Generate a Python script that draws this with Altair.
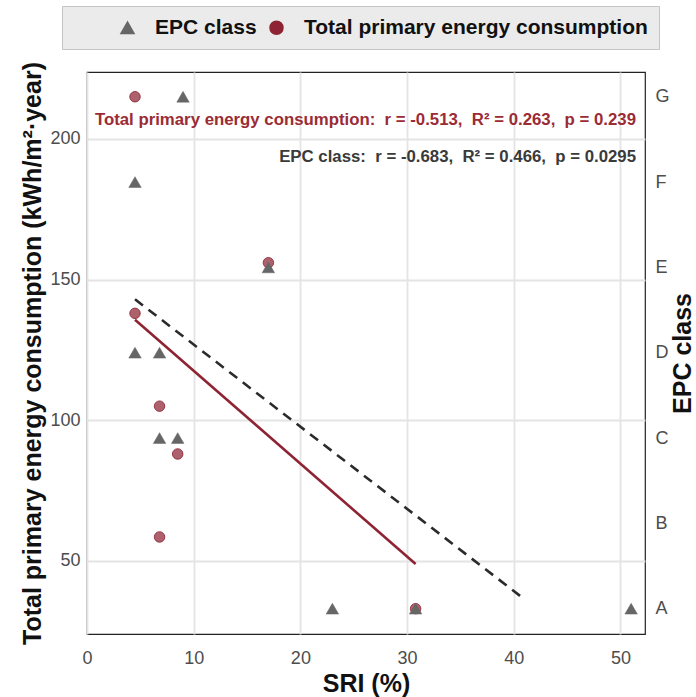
import altair as alt
import pandas as pd

# ---- data ----
sri_energy = [4.5, 4.5, 6.8, 6.8, 8.5, 17.0, 30.8]
energy = [215, 138, 105, 58.5, 88, 156, 33]

sri_epc = [9.0, 4.5, 17.0, 4.5, 6.8, 6.8, 8.5, 23.0, 30.8, 51.0]
epc_class = ["G", "F", "E", "D", "D", "C", "C", "A", "A", "A"]
epc_letters = ["A", "B", "C", "D", "E", "F", "G"]

series_names = ["EPC class", "Total primary energy consumption"]
NB = "\u00a0"
annot_energy = f"Total primary energy consumption:{NB} r = -0.513,{NB} R² = 0.263,{NB} p = 0.239"
annot_epc = f"EPC class:{NB} r = -0.683,{NB} R² = 0.466,{NB} p = 0.0295"

x_domain = [0, 52.3]
y_domain = [24, 223.8]
epc_fit_extent = [4.5, 41]

# ---- derived tables ----
df_e = pd.DataFrame({"sri": sri_energy, "val": energy, "series": series_names[1]})
df_c = pd.DataFrame({
    "sri": sri_epc,
    "k": [epc_letters.index(c) + 1 for c in epc_class],
    "series": series_names[0],
})
emin, emax = min(energy), max(energy)
step = (emax - emin) / 6.0
k_domain = [(d - emin) / step + 1 for d in y_domain]

FONT = "Liberation Sans"
RED = "#8E2433"
GREY = "#666666"

x_enc = alt.X("sri:Q", scale=alt.Scale(domain=x_domain, nice=False, zero=False),
              axis=alt.Axis(title="SRI (%)", values=[0, 10, 20, 30, 40, 50],
                            titleX=279, titleY=49, titleBaseline="middle",
                            labelPadding=15, labelFlush=False))

shape_enc = alt.Shape("series:N", scale=alt.Scale(domain=series_names, range=["triangle-up", "circle"]),
                      legend=alt.Legend(title=" ", titleOrient="left", titlePadding=44,
                                        orient="none", legendX=-25, legendY=-66,
                                        direction="horizontal", fillColor="#EBEBEB",
                                        strokeColor="#C4C4C4", padding=11,
                                        labelFontSize=21, labelFontWeight="bold",
                                        labelFont=FONT, labelColor="#111111", labelLimit=0,
                                        symbolSize=170, labelOffset=17, columnPadding=9,
                                        titleFontSize=21))
color_enc = alt.Color("series:N", scale=alt.Scale(domain=series_names, range=[GREY, RED]))
stroke_enc = alt.Stroke("series:N", scale=alt.Scale(domain=series_names, range=[GREY, RED]))

base_e = alt.Chart(df_e)
y_e = alt.Y("val:Q", scale=alt.Scale(domain=y_domain, nice=False, zero=False),
            axis=alt.Axis(title="Total primary energy consumption (kWh/m²·year)",
                          values=[50, 100, 150, 200], titleX=-55, titleY=281,
                          titleAngle=-90, titleAlign="center", titleBaseline="middle",
                          labelPadding=7))

pts_e = base_e.mark_point(filled=True, size=110, fillOpacity=0.72,
                          strokeOpacity=0.85, strokeWidth=1).encode(
    x=x_enc, y=y_e, shape=shape_enc, color=color_enc, stroke=stroke_enc)
line_e = base_e.transform_regression("sri", "val").mark_line(color=RED, strokeWidth=2.6).encode(
    x="sri:Q", y="val:Q")
layer_e = alt.layer(line_e, pts_e)

base_c = alt.Chart(df_c)
y_c = alt.Y("k:Q", scale=alt.Scale(domain=k_domain, nice=False, zero=False),
            axis=alt.Axis(title="EPC class", orient="right", values=[1, 2, 3, 4, 5, 6, 7],
                          labelExpr="['A','B','C','D','E','F','G'][datum.value - 1]",
                          grid=False, titleX=37, titleY=281, titleAngle=-90,
                          titleAlign="center", titleBaseline="middle", labelPadding=10))
pts_c = base_c.mark_point(filled=True, size=155, opacity=1, strokeWidth=0.5).encode(
    x=x_enc, y=y_c, shape=shape_enc, color=color_enc, stroke=stroke_enc)
line_c = base_c.transform_regression("sri", "k", extent=epc_fit_extent).mark_line(
    color="#2B2B2B", strokeWidth=2.6, strokeDash=[10, 7]).encode(x="sri:Q", y="k:Q")
layer_c = alt.layer(line_c, pts_c)

txt_e = alt.Chart(pd.DataFrame({"label": [annot_energy]})).mark_text(
    align="right", baseline="middle", fontSize=16.8, fontWeight="bold", font=FONT,
    color="#9B2B35").encode(text="label:N", x=alt.value(549), y=alt.value(48))
txt_c = alt.Chart(pd.DataFrame({"label": [annot_epc]})).mark_text(
    align="right", baseline="middle", fontSize=16.8, fontWeight="bold", font=FONT,
    color="#3A3A3A").encode(text="label:N", x=alt.value(549), y=alt.value(85))

chart = alt.layer(layer_e, layer_c, txt_e, txt_c).resolve_scale(y="independent").properties(
    width=558, height=562,
    autosize=alt.AutoSizeParams(type="none"),
    padding={"left": 87, "top": 72, "right": 51, "bottom": 63},
).configure_view(stroke="#222222", strokeWidth=1.2).configure_axis(
    ticks=False, tickSize=0, domain=False,
    gridColor="#E4E4E4", gridWidth=1.8,
    labelFont=FONT, labelFontSize=18, labelColor="#4D4D4D",
    titleFont=FONT, titleFontSize=25, titleFontWeight="bold", titleColor="#111111",
)

chart.save("out.html", embed_options={"renderer": "svg", "actions": False})
